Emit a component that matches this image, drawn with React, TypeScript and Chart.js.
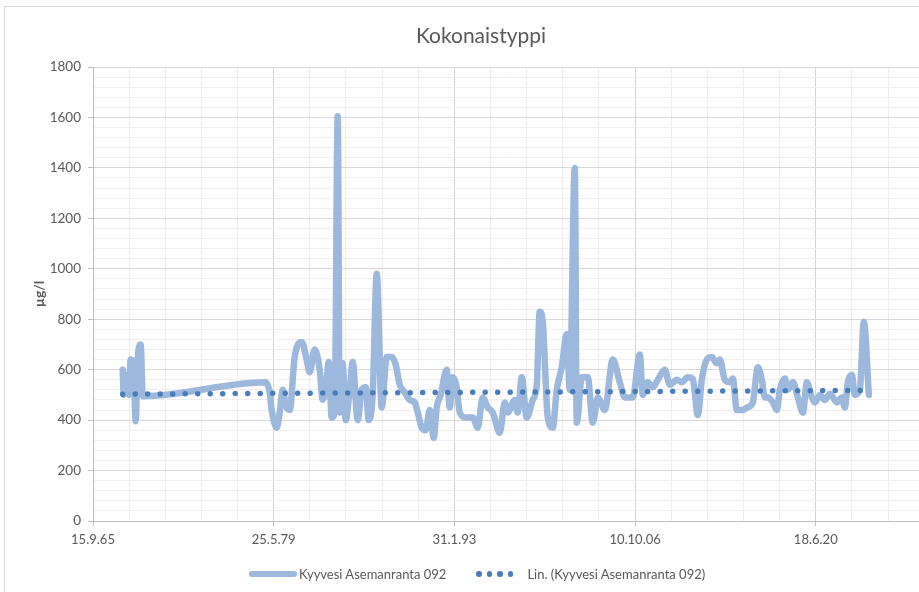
import React, { useEffect, useRef } from 'react';
import { Chart, registerables } from 'chart.js';

Chart.register(...registerables);

const chartTitle = 'Kokonaistyppi';
const yAxisTitle = 'µg/l';
const seriesLabel = 'Kyyvesi Asemanranta 092';
const trendLabel = 'Lin. (Kyyvesi Asemanranta 092)';

// Sample dates as Excel date serial numbers (days since 30.12.1899)
const sampleDates = [
  24822, 24849, 24932, 24988, 25043, 25126, 25181, 25237, 25320, 25375,
  28779, 28889, 28945, 29083, 29166, 29249, 29332, 29443, 29581, 29775,
  29913, 29996, 30134, 30273, 30356, 30467, 30522, 30605, 30688, 30771,
  30826, 30909, 30992, 31103, 31186, 31324, 31435, 31546, 31629, 31740,
  31851, 31989, 32127, 32265, 32376, 32487, 32625, 32763, 32902, 32985,
  33095, 33206, 33317, 33428, 33511, 33622, 33788, 33871, 33954, 34065,
  34148, 34342, 34508, 34646, 34784, 34923, 35061, 35255, 35393, 35476,
  35670, 35753, 35864, 36002, 36168, 36279, 36362, 36445, 36584, 36722,
  36833, 36971, 37110, 37193, 37331, 37386, 37525, 37691, 37829, 37968,
  38161, 38383, 38576, 38715, 38936, 39130, 39213, 39351, 39490, 39628,
  39822, 39960, 40154, 40292, 40458, 40597, 40735, 40846, 40985, 41123,
  41261, 41344, 41483, 41621, 41704, 41815, 41981, 42092, 42258, 42396,
  42507, 42590, 42673, 42812, 42922, 43005, 43144, 43227, 43365, 43504,
  43642, 43753, 43891, 43974, 44113, 44251, 44389, 44583, 44721, 44804,
  44887, 44998, 45081, 45220, 45330, 45469,
];

// Total phosphorus, µg/l
const totalPhosphorus = [
  600, 500, 580, 500, 640, 600, 395, 640, 700, 495,
  550, 510, 440, 370, 430, 520, 460, 440, 650, 710,
  640, 590, 680, 600, 480, 560, 630, 410, 430, 1605,
  430, 625, 400, 520, 630, 400, 520, 530, 400, 505,
  980, 450, 650, 650, 620, 540, 510, 480, 470, 432,
  370, 360, 440, 330, 450, 500, 600, 450, 570, 530,
  430, 410, 410, 370, 490, 450, 430, 350, 470, 430,
  480, 430, 570, 410, 480, 540, 830, 790, 410, 370,
  520, 610, 740, 520, 1400, 390, 570, 570, 390, 490,
  440, 640, 550, 490, 490, 660, 500, 550, 530, 560,
  600, 540, 560, 550, 570, 565, 420, 560, 640, 650,
  625, 640, 560, 550, 565, 440, 440, 450, 470, 610,
  560, 490, 490, 470, 440, 520, 565, 520, 550, 490,
  430, 550, 490, 470, 500, 480, 505, 470, 490, 450,
  550, 580, 500, 520, 790, 500,
];

// Linear trend line end values
const trendDates = [sampleDates[0], sampleDates[sampleDates.length - 1]];
const trendValues = [503, 518];

const xMin = 24000;
const xMax = 46856;
const xMajor = 5000;
const xMinor = 1000;
const yMin = 0;
const yMax = 1800;
const yMajor = 200;
const yMinor = 40;

const textColor = '#595959';
const fontFamily = 'Lato, "Open Sans", sans-serif';
const seriesColor = '#9cb8dc';
const trendColor = '#4a7ebb';

function serialToLabel(serial: number): string {
  const ms = Date.UTC(1899, 11, 30) + serial * 86400000;
  const d = new Date(ms);
  const yy = String(d.getUTCFullYear() % 100).padStart(2, '0');
  return `${d.getUTCDate()}.${d.getUTCMonth() + 1}.${yy}`;
}

function range(min: number, max: number, step: number): number[] {
  const out: number[] = [];
  for (let v = min; v <= max + 1e-9; v += step) out.push(v);
  return out;
}

export default function App() {
  const canvasRef = useRef<HTMLCanvasElement | null>(null);

  useEffect(() => {
    document.body.style.margin = '0';
    const canvas = canvasRef.current;
    if (!canvas) return;
    const isXMajor = (v: number) => Math.abs(v - xMin) % xMajor === 0;
    const isYMajor = (v: number) => Math.abs(v - yMin) % yMajor === 0;

    const chart = new Chart(canvas, {
      type: 'line',
      data: {
        datasets: [
          {
            label: trendLabel,
            data: trendDates.map((x, i) => ({ x, y: trendValues[i] })),
            borderColor: trendColor,
            borderWidth: 5.5,
            borderDash: [0, 12.5],
            borderCapStyle: 'round',
            pointRadius: 0,
            fill: false,
            order: 0,
          },
          {
            label: seriesLabel,
            data: sampleDates.map((x, i) => ({ x, y: totalPhosphorus[i] })),
            borderColor: seriesColor,
            borderWidth: 6.5,
            borderJoinStyle: 'round',
            borderCapStyle: 'round',
            cubicInterpolationMode: 'monotone',
            pointRadius: 0,
            fill: false,
            order: 1,
          },
        ],
      },
      options: {
        animation: false,
        responsive: false,
        events: [],
        layout: { padding: { left: 0, right: 0, top: 67, bottom: 31 } },
        plugins: {
          legend: { display: false },
          title: { display: false },
          tooltip: { enabled: false },
        },
        scales: {
          x: {
            type: 'linear',
            min: xMin,
            max: xMax,
            afterBuildTicks: (axis: any) => {
              axis.ticks = range(xMin, xMax, xMinor).map((value) => ({ value }));
            },
            afterFit: (axis: any) => {
              axis.height = 40;
            },
            ticks: {
              autoSkip: false,
              maxRotation: 0,
              minRotation: 0,
              padding: 6,
              color: textColor,
              font: { family: fontFamily, size: 13 },
              callback: (v: any) => (isXMajor(Number(v)) ? serialToLabel(Number(v)) : ''),
            },
            grid: {
              color: (ctx: any) => (ctx.tick && isXMajor(ctx.tick.value) ? '#d4d4d4' : '#ededed'),
              lineWidth: 1,
              drawTicks: true,
              tickLength: 5,
              tickColor: (ctx: any) => (ctx.tick && isXMajor(ctx.tick.value) ? '#bfbfbf' : 'rgba(0,0,0,0)'),
            },
            border: { display: true, color: '#bfbfbf', width: 1 },
          },
          y: {
            type: 'linear',
            min: yMin,
            max: yMax,
            afterBuildTicks: (axis: any) => {
              axis.ticks = range(yMin, yMax, yMinor).map((value) => ({ value }));
            },
            afterFit: (axis: any) => {
              axis.width = 93;
            },
            ticks: {
              autoSkip: false,
              padding: 7,
              color: textColor,
              font: { family: fontFamily, size: 13.5 },
              callback: (v: any) => (isYMajor(Number(v)) ? String(v) : ''),
            },
            grid: {
              color: (ctx: any) => (ctx.tick && isYMajor(ctx.tick.value) ? '#d9d9d9' : '#efefef'),
              lineWidth: 1,
              drawTicks: true,
              tickLength: 5,
              tickColor: (ctx: any) => (ctx.tick && isYMajor(ctx.tick.value) ? '#bfbfbf' : 'rgba(0,0,0,0)'),
            },
            border: { display: true, color: '#bfbfbf', width: 1 },
            title: {
              display: true,
              text: yAxisTitle,
              color: textColor,
              font: { family: fontFamily, size: 14, weight: 'bold' },
              padding: { top: 31, bottom: 0 },
            },
          },
        },
      } as any,
    });
    return () => chart.destroy();
  }, []);

  return (
    <div style={{ position: 'relative', width: 919, height: 592, overflow: 'hidden', background: '#ffffff' }}>
      <div
        style={{
          position: 'absolute',
          left: 4,
          top: 6,
          width: 1000,
          height: 1000,
          borderLeft: '1px solid #d9d9d9',
          borderTop: '1px solid #d9d9d9',
        }}
      />
      <canvas ref={canvasRef} width={919} height={592} style={{ position: 'absolute', left: 0, top: 0, display: 'block' }} />
      <div
        style={{
          position: 'absolute',
          left: 481,
          top: 22,
          transform: 'translateX(-50%)',
          fontFamily,
          fontSize: 21,
          color: textColor,
          whiteSpace: 'nowrap',
          lineHeight: '26px',
        }}
      >
        {chartTitle}
      </div>
      <div
        style={{
          position: 'absolute',
          left: 249,
          top: 566,
          height: 16,
          display: 'flex',
          alignItems: 'center',
          fontFamily,
          fontSize: 13,
          color: textColor,
          whiteSpace: 'nowrap',
        }}
      >
        <span style={{ display: 'inline-block', width: 48, height: 6, borderRadius: 3, background: seriesColor, marginRight: 2 }} />
        <span>{seriesLabel}</span>
        <span style={{ display: 'inline-flex', gap: 5, marginLeft: 30, marginRight: 14 }}>
          {[0, 1, 2, 3].map((i) => (
            <span key={i} style={{ display: 'inline-block', width: 5.5, height: 5.5, borderRadius: '50%', background: trendColor }} />
          ))}
        </span>
        <span>{trendLabel}</span>
      </div>
    </div>
  );
}
